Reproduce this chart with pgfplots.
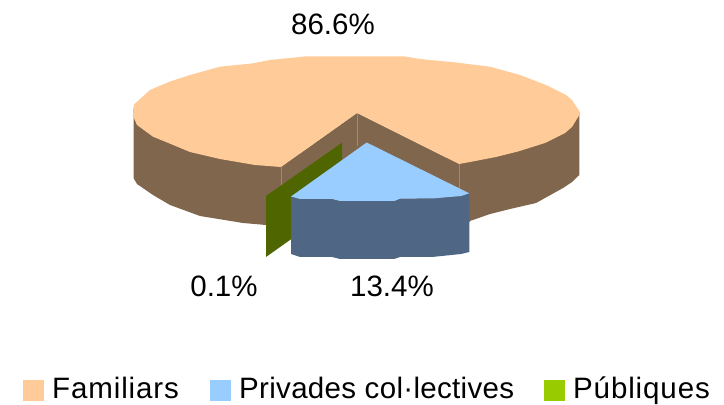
\documentclass[border=0pt]{standalone}
\usepackage{fontspec}
\setmainfont{Liberation Sans}
\usepackage{pgfplots}
\pgfplotsset{compat=1.18}
\definecolor{peach}{HTML}{FFCC99}
\definecolor{brownw}{HTML}{80664D}
\definecolor{seam}{HTML}{A08A76}
\definecolor{sky}{HTML}{99CCFF}
\definecolor{slate}{HTML}{4F6685}
\definecolor{dgreen}{HTML}{4F6600}
\definecolor{lgreen}{HTML}{99CC00}
\newcommand{\lab}{\fontsize{29.5}{32}\selectfont}
\newfontfamily\spacedA[LetterSpace=3.0]{Liberation Sans}
\newfontfamily\spacedB[LetterSpace=1.1]{Liberation Sans}
\begin{document}
\begin{tikzpicture}
\begin{axis}[
  width=724pt,height=403pt,scale only axis,
  xmin=0,xmax=724,ymin=0,ymax=403,y dir=reverse,
  hide axis,clip=false,
  every axis plot/.append style={no markers,draw=none,line width=0pt},
]
% page background fixes the picture's extent
\addplot[fill=white] coordinates {(0,0)(724,0)(724,403)(0,403)} --cycle;
% outer wall (left)
\addplot[fill=brownw] coordinates {(133.5,108)(133.5,178)(137,184)(153,195)(170,205)(200,216)(243,223)(266,225)(300,240)(300,150)(281,160)} --cycle;
% outer wall (right)
\addplot[fill=brownw] coordinates {(440,160)(579.3,112)(579.3,175)(572,182)(563,188)(536,203)(510,209)(490,214)(470,221)(440,225)} --cycle;
% inner walls
\addplot[fill=brownw] coordinates {(281,167)(357,113)(459,164)(470,222)(357,172)(281,226)} --cycle;
% seams
\addplot[draw=seam,line width=0.8pt] coordinates {(281,167)(281,191)};
\addplot[draw=seam,line width=0.8pt] coordinates {(357,113)(357,146)};
\addplot[draw=seam,line width=0.8pt] coordinates {(459.5,164)(459.5,189)};
% peach top
\addplot[fill=peach] coordinates {
 (133.5,105)(140,99)(150,90)(170,81.5)(190,75)(220,66.7)(252,63.5)(270,60)(305,56.5)(405,56.5)(420,59)(456,62.5)(490,66.7)(520,75)(546,85)(566,95)(572,100)(579.3,111)
 (579.3,115)(572,127)(565,133)(545,143)(518,151.5)(496,157)(470,162)(459,164)
 (357,113)(281,167)(255,165)(220,159)(190,152)(166,142)(153,136.7)(137,125)(133.5,117)} --cycle;
% green
\addplot[fill=dgreen] coordinates {(266,196)(342,142.7)(342,203)(266,257)} --cycle;
% blue side
\addplot[fill=slate] coordinates {(291,196.5)(300,199)(332,199)(340,201)(394,201)(400,198.5)(432,198.5)(461,196)(469.3,193.3)(469.3,252)(461,254)(432,257)(400,257)(394,259)(340,259)(332,257)(300,257)(291,254)} --cycle;
% blue top
\addplot[fill=sky] coordinates {(366.7,142.5)(469.3,193.3)(461,196)(432,198.5)(400,198.5)(394,201)(340,201)(332,199)(300,199)(291,196.5)} --cycle;
% legend squares
\addplot[fill=peach] coordinates {(23,380)(44,380)(44,401)(23,401)} --cycle;
\addplot[fill=sky] coordinates {(210,380)(231,380)(231,401)(210,401)} --cycle;
\addplot[fill=lgreen] coordinates {(544,380)(565,380)(565,401)(544,401)} --cycle;
% labels
\node[anchor=base,inner sep=0pt] at (axis cs:333,35) {\lab 86.6\%};
\node[anchor=base,inner sep=0pt] at (axis cs:224,297) {\lab 0.1\%};
\node[anchor=base,inner sep=0pt] at (axis cs:392,297) {\lab 13.4\%};
\node[anchor=base west,inner sep=0pt] at (axis cs:52,398) {\spacedA\lab Familiars};
\node[anchor=base west,inner sep=0pt] at (axis cs:239,398) {\spacedB\lab Privades col·lectives};
\node[anchor=base west,inner sep=0pt] at (axis cs:573,398) {\spacedA\lab Públiques};
\end{axis}
\end{tikzpicture}
\end{document}
